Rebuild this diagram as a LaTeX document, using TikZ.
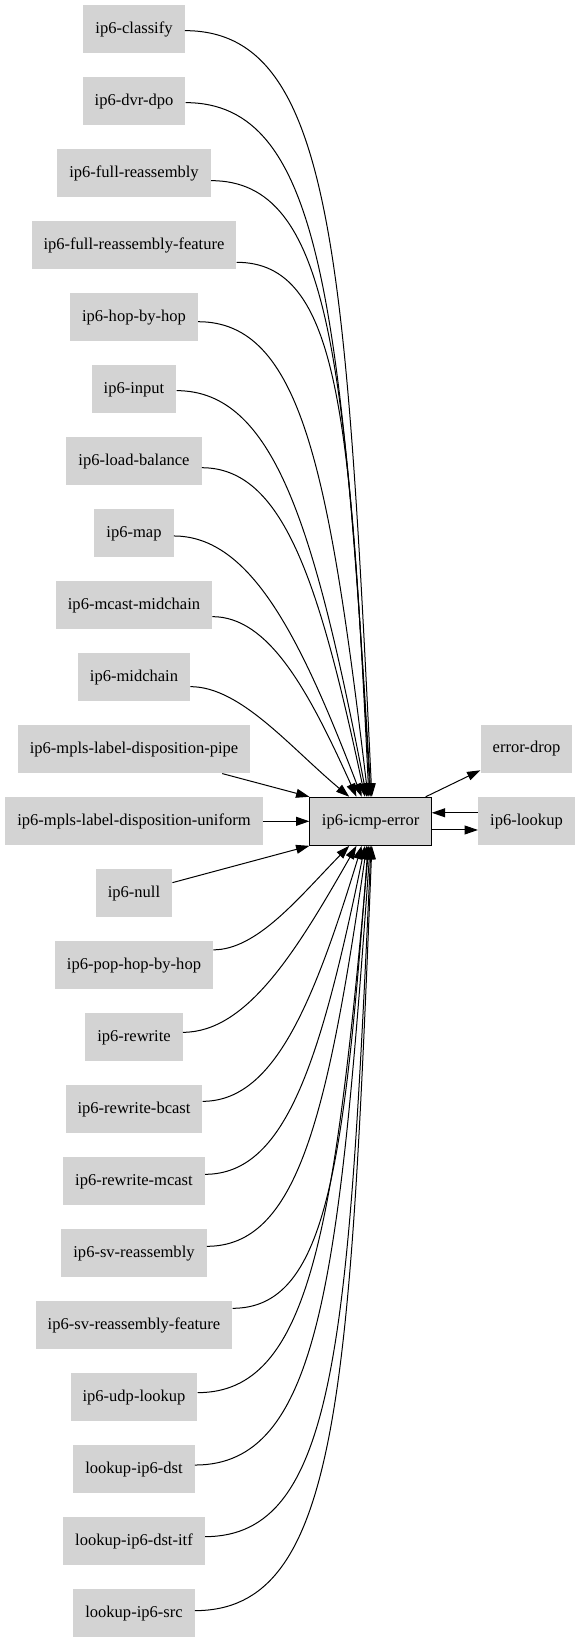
\documentclass[tikz,border=0pt]{standalone}
\usepackage{fontspec}
\setmainfont{Liberation Serif}
\usetikzlibrary{arrows.meta}
\definecolor{graynode}{HTML}{D3D3D3}
\tikzset{
	gnode/.style={rectangle, fill=graynode, draw=none, minimum height=36pt, inner xsep=9pt, inner ysep=0pt, font=\fontsize{12.4}{14}\selectfont},
	hub/.style={gnode, draw=black, line width=0.8pt},
	flow/.style={line width=0.75pt, -{Triangle[length=10pt,width=6.7pt]}}
}

\begin{document}
\begin{tikzpicture}[x=0.75pt, y=-0.75pt]
		%%%%% START %%%%%
		\useasboundingbox (0, 0) rectangle (579, 1643);
		
		\node[gnode] (classify) at (134, 29.3) {ip6-classify};
		\node[gnode] (dvrdpo) at (134, 101.3) {ip6-dvr-dpo};
		\node[gnode] (fullreass) at (134, 173.3) {ip6-full-reassembly};
		\node[gnode] (fullreassfeat) at (134, 245.3) {ip6-full-reassembly-feature};
		\node[gnode] (hopbyhop) at (134, 317.3) {ip6-hop-by-hop};
		\node[gnode] (input) at (134, 389.3) {ip6-input};
		\node[gnode] (loadbal) at (134, 461.3) {ip6-load-balance};
		\node[gnode] (map) at (134, 533.3) {ip6-map};
		\node[gnode] (mcastmid) at (134, 605.3) {ip6-mcast-midchain};
		\node[gnode] (midchain) at (134, 677.3) {ip6-midchain};
		\node[gnode] (mplspipe) at (134, 749.3) {ip6-mpls-label-disposition-pipe};
		\node[gnode] (mplsuni) at (134, 821.3) {ip6-mpls-label-disposition-uniform};
		\node[gnode] (null) at (134, 893.3) {ip6-null};
		\node[gnode] (pophop) at (134, 965.3) {ip6-pop-hop-by-hop};
		\node[gnode] (rewrite) at (134, 1037.3) {ip6-rewrite};
		\node[gnode] (rwbcast) at (134, 1109.3) {ip6-rewrite-bcast};
		\node[gnode] (rwmcast) at (134, 1181.3) {ip6-rewrite-mcast};
		\node[gnode] (svreass) at (134, 1253.3) {ip6-sv-reassembly};
		\node[gnode] (svreassfeat) at (134, 1325.3) {ip6-sv-reassembly-feature};
		\node[gnode] (udplookup) at (134, 1397.3) {ip6-udp-lookup};
		\node[gnode] (lkdst) at (134, 1469.3) {lookup-ip6-dst};
		\node[gnode] (lkdstitf) at (134, 1541.3) {lookup-ip6-dst-itf};
		\node[gnode] (lksrc) at (134, 1613.3) {lookup-ip6-src};
		
		\node[hub] (icmperror) at (370.6, 821.3) {ip6-icmp-error};
		\node[gnode] (errdrop) at (526.5, 748.8) {error-drop};
		\node[gnode] (lookup) at (526.5, 821.3) {ip6-lookup};
		
		% edges coming in from above
		\draw[flow] ([yshift=-1pt]classify.east) .. controls +(146.5,0) and +(-26.4,-547) .. (icmperror.87);
		\draw[flow] ([yshift=-1pt]dvrdpo.east) .. controls +(135.9,0) and +(-30.2,-492.4) .. (icmperror.89);
		\draw[flow] ([yshift=-5.5pt]fullreass.east) .. controls +(119.5,0) and +(-24.6,-438.2) .. (icmperror.91);
		\draw[flow] ([yshift=-12.75pt]fullreassfeat.east) .. controls +(102.2,0) and +(-18.3,-381.7) .. (icmperror.94);
		\draw[flow] ([yshift=-3.3pt]hopbyhop.east) .. controls +(102.5,0) and +(-39,-327.9) .. (icmperror.96);
		\draw[flow] ([yshift=-1pt]input.east) .. controls +(97.4,0) and +(-52.4,-270.6) .. (icmperror.99);
		\draw[flow] ([yshift=-4.8pt]loadbal.east) .. controls +(80.8,0) and +(-46.2,-217.5) .. (icmperror.103);
		\draw[flow] ([yshift=-2pt]map.east) .. controls +(76.8,0) and +(-61.4,-159.9) .. (icmperror.110);
		\draw[flow] ([yshift=-8.5pt]mcastmid.east) .. controls +(56.1,0) and +(-48.4,-107.4) .. (icmperror.120);
		\draw[flow] ([yshift=-7pt]midchain.east) .. controls +(49.9,0) and +(-60.1,-50.4) .. (icmperror.131);
		
		\draw[flow] ([xshift=-21.2pt]mplspipe.south east) -- (icmperror.north west);
		\draw[flow] (mplsuni.east) -- (icmperror.west);
		\draw[flow] ([yshift=8pt]null.east) -- (icmperror.south west);
		
		% edges coming in from below
		\draw[flow] ([yshift=11.6pt]pophop.east) .. controls +(44,0) and +(-50.2,51.3) .. (icmperror.229);
		\draw[flow] ([yshift=3.75pt]rewrite.east) .. controls +(63.6,0) and +(-60.6,106.4) .. (icmperror.240);
		\draw[flow] ([yshift=6pt]rwbcast.east) .. controls +(69.9,0) and +(-49.5,162.4) .. (icmperror.250);
		\draw[flow] ([yshift=5.25pt]rwmcast.east) .. controls +(80.1,0) and +(-44.9,218.1) .. (icmperror.257);
		\draw[flow] ([yshift=5.25pt]svreass.east) .. controls +(89.9,0) and +(-39.5,273.5) .. (icmperror.261);
		\draw[flow] ([yshift=12.75pt]svreassfeat.east) .. controls +(92.8,0) and +(-24.2,326.6) .. (icmperror.264);
		\draw[flow] ([yshift=3.5pt]udplookup.east) .. controls +(112.7,0) and +(-34.3,383.1) .. (icmperror.266);
		\draw[flow] ([yshift=3.2pt]lkdst.east) .. controls +(123.6,0) and +(-31,437.6) .. (icmperror.269);
		\draw[flow] ([yshift=3.5pt]lkdstitf.east) .. controls +(131.7,0) and +(-22.7,494.2) .. (icmperror.271);
		\draw[flow] ([yshift=2pt]lksrc.east) .. controls +(144.3,0) and +(-22.2,548.6) .. (icmperror.273);
		
		% outgoing
		\draw[flow] (icmperror.24.6) -- (errdrop.205.5);
		\draw[flow] ([yshift=-6.5pt]icmperror.east) -- ([yshift=-6.5pt]lookup.west);
		\draw[flow] ([yshift=6.4pt]lookup.west) -- ([yshift=6.4pt]icmperror.east);
		
		%%%%% END %%%%%
	\end{tikzpicture}
\end{document}
